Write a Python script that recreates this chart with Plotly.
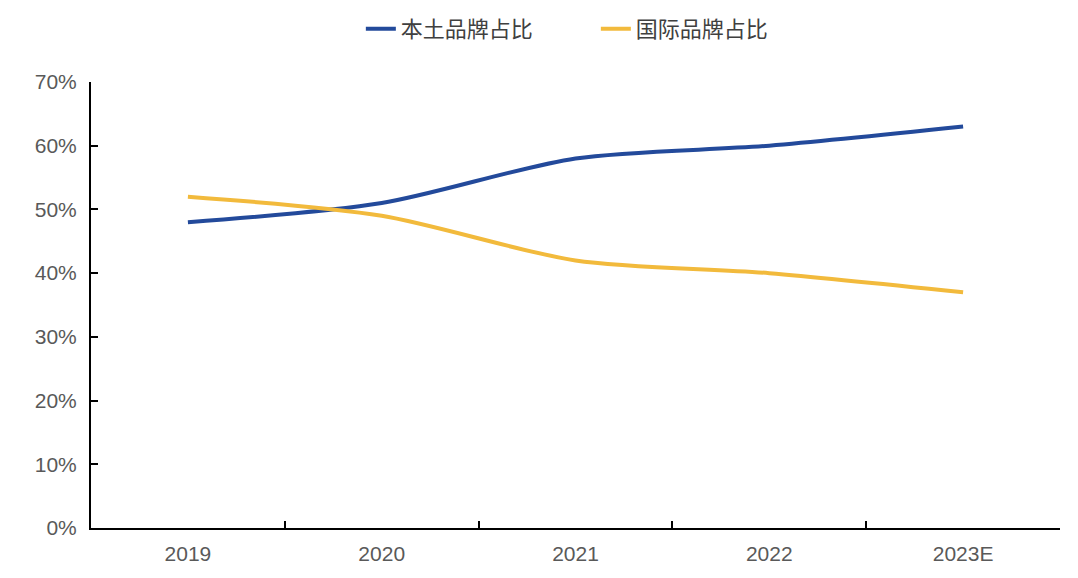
import plotly.graph_objects as go

years = ["2019", "2020", "2021", "2022", "2023E"]
domestic = [0.48, 0.51, 0.58, 0.60, 0.63]
international = [0.52, 0.49, 0.42, 0.40, 0.37]
y_ticks = [0, 0.1, 0.2, 0.3, 0.4, 0.5, 0.6, 0.7]

fig = go.Figure()
fig.add_trace(go.Scatter(x=years, y=domestic, name="本土品牌占比", mode="lines",
                         line=dict(color="#234A9B", width=4, shape="spline", smoothing=0.8)))
fig.add_trace(go.Scatter(x=years, y=international, name="国际品牌占比", mode="lines",
                         line=dict(color="#F2BA3C", width=4, shape="spline", smoothing=0.8)))

fig.update_layout(
    width=1070, height=570,
    margin=dict(l=83, r=18, t=74, b=50),
    paper_bgcolor="white", plot_bgcolor="white",
    font=dict(family="Liberation Sans, Arial", size=21, color="#595959"),
    legend=dict(orientation="h", x=0.521, xanchor="center", y=1.0, yanchor="top",
                yref="container", font=dict(family="Noto Sans CJK SC", size=22, color="#404040"),
                entrywidth=190),
    showlegend=True,
)
fig.update_xaxes(type="category", showline=True, linecolor="black", linewidth=2,
                 ticks="inside", tickson="boundaries", ticklen=7, tickcolor="black", tickwidth=2,
                 showgrid=False, range=[-0.5, 4.5], ticklabelstandoff=6)
fig.update_yaxes(range=[0, 0.7], tickvals=y_ticks, tickformat=".0%", showline=True,
                 linecolor="black", linewidth=2, ticks="inside", ticklen=7, tickcolor="black",
                 tickwidth=2, showgrid=False, zeroline=False, ticklabelstandoff=8)

fig.write_html("out.html")
